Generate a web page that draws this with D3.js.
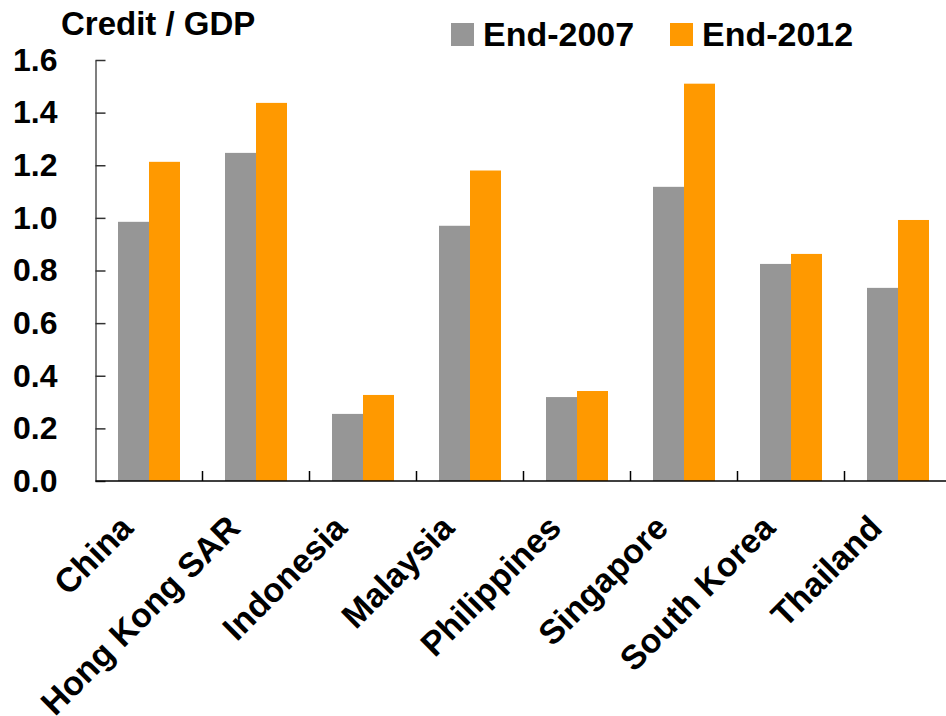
<!DOCTYPE html>
<html>
<head>
<meta charset="utf-8">
<script src="https://cdn.jsdelivr.net/npm/d3@7"></script>
<style>
  body { margin: 0; background: #fff; }
  svg text { font-family: "Liberation Sans", Arial, sans-serif; font-weight: bold; fill: #000; }
</style>
</head>
<body>
<div id="chart"></div>
<script>
var countries = ["China", "Hong Kong SAR", "Indonesia", "Malaysia", "Philippines", "Singapore", "South Korea", "Thailand"];
var series = ["End-2007", "End-2012"];
var end2007 = [0.985, 1.247, 0.255, 0.970, 0.319, 1.118, 0.825, 0.734];
var end2012 = [1.213, 1.437, 0.327, 1.180, 0.342, 1.510, 0.863, 0.992];
var yTicks = [0, 0.2, 0.4, 0.6, 0.8, 1.0, 1.2, 1.4, 1.6];
var colors = ["#969696", "#FF9900"];

var width = 946, height = 716;
var plotLeft = 95.5, plotRight = 951.5, plotTop = 60, plotBottom = 481;

var svg = d3.select("#chart").append("svg")
  .attr("width", width)
  .attr("height", height);

var x = d3.scaleBand().domain(countries).range([plotLeft, plotRight]).padding(0);
var bw = x.bandwidth();
var x1 = d3.scaleBand().domain(series).range([bw * 22.5 / 107, bw * 84.5 / 107]).padding(0);
var y = d3.scaleLinear().domain([0, 1.6]).range([plotBottom, plotTop]);

var values = [end2007, end2012];

// bars
var groups = svg.selectAll("g.country")
  .data(countries)
  .enter().append("g")
  .attr("transform", d => "translate(" + x(d) + ",0)");

groups.selectAll("rect")
  .data((d, i) => series.map((s, j) => ({s: s, v: values[j][i], c: colors[j]})))
  .enter().append("rect")
  .attr("x", d => x1(d.s))
  .attr("width", x1.bandwidth())
  .attr("y", d => y(d.v))
  .attr("height", d => y(0) - y(d.v))
  .attr("fill", d => d.c);

// y axis
var yAxis = svg.append("g")
  .attr("transform", "translate(" + plotLeft + ",0)")
  .call(d3.axisLeft(y).tickValues(yTicks).tickFormat(d3.format(".1f")).tickSizeInner(-10).tickSizeOuter(0).tickPadding(38));
yAxis.select(".domain").attr("stroke", "#555").attr("stroke-width", 1.5);
yAxis.selectAll(".tick line").attr("stroke", "#333").attr("stroke-width", 1.5);
yAxis.selectAll("text").attr("font-size", 32).attr("fill", "#000");

// x axis line and category separators
svg.append("line")
  .attr("x1", plotLeft).attr("x2", plotRight)
  .attr("y1", plotBottom).attr("y2", plotBottom)
  .attr("stroke", "#000").attr("stroke-width", 1.5);

svg.selectAll("line.sep")
  .data(countries.slice(1))
  .enter().append("line")
  .attr("class", "sep")
  .attr("x1", d => x(d)).attr("x2", d => x(d))
  .attr("y1", plotBottom).attr("y2", plotBottom - 10)
  .attr("stroke", "#000").attr("stroke-width", 1.5);

// x labels
svg.selectAll("text.xlab")
  .data(countries)
  .enter().append("text")
  .attr("class", "xlab")
  .attr("text-anchor", "end")
  .attr("font-size", 34)
  .attr("transform", d => "translate(" + (x(d) + bw / 2 - 14) + ",530) rotate(-45)")
  .text(d => d);

// title
svg.append("text")
  .attr("x", 61).attr("y", 35)
  .attr("font-size", 33)
  .text("Credit / GDP");

// legend
var legendX = [451, 670];
var legend = svg.selectAll("g.legend")
  .data(series)
  .enter().append("g")
  .attr("transform", (d, i) => "translate(" + legendX[i] + ",23)");
legend.append("rect")
  .attr("width", 23).attr("height", 23)
  .attr("fill", (d, i) => colors[i]);
legend.append("text")
  .attr("x", 32).attr("y", 23)
  .attr("font-size", 34)
  .text(d => d);
</script>
</body>
</html>
